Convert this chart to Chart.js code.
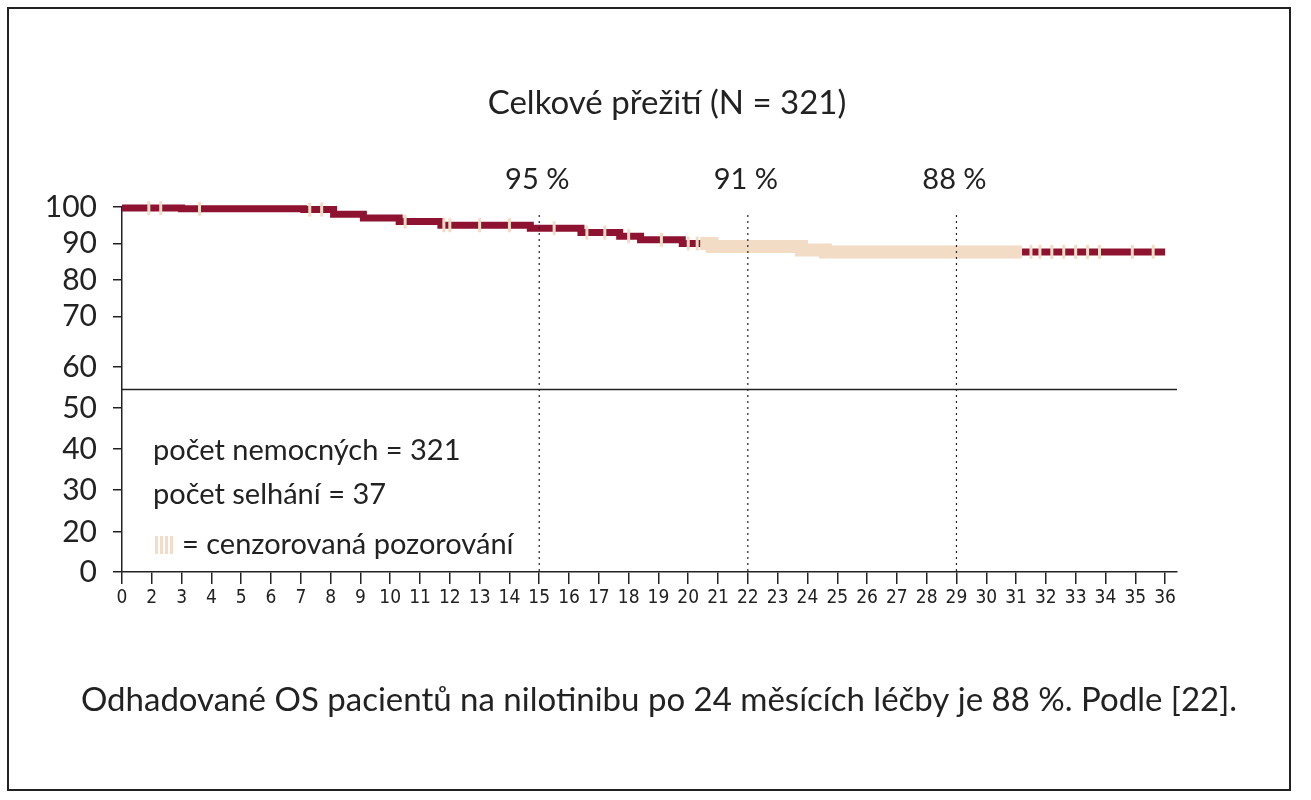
<!DOCTYPE html>
<html><head><meta charset="utf-8">
<script src="https://cdn.jsdelivr.net/npm/chart.js@4"></script>
<style>html,body{margin:0;padding:0;background:#fff}#w{width:1311px;height:800px;position:relative}</style>
</head><body><div id="w"><canvas id="c" width="1311" height="800"></canvas></div>
<script>
// x axis: evenly spaced tick positions, labelled with months (no "1")
const xTickLabels = ['0','2','3','4','5','6','7','8','9','10','11','12','13','14','15','16','17','18','19','20','21','22','23','24','25','26','27','28','29','30','31','32','33','34','35','36'];
// y axis: tick positions (axis units) and their printed labels (broken axis)
const yTickPos    = [0, 11, 22.5, 33.7, 44.9, 56.2, 70, 80, 90, 100];
const yTickLabels = ['0','20','30','40','50','60','70','80','90','100'];
// Kaplan-Meier step curve (x in tick-position units)
const kmTimes  = [0, 2.0, 6.1, 7.1, 8.1, 9.3, 10.7, 13.7, 15.4, 16.7, 17.4, 18.8, 19.8, 22.8, 23.6, 35.0];
const kmValues = [99.7, 99.5, 99.3, 98.0, 97.0, 96.0, 95.0, 94.2, 93.0, 92.0, 91.0, 90.0, 89.2, 88.2, 87.7, 87.7];
// censored observations (sparse marks)
const censorTimes = [0.9, 1.3, 2.6, 6.3, 6.7, 9.5, 10.8, 11.0, 12.0, 13.0, 14.5, 15.6, 16.2, 17.0, 18.1, 19.0, 19.3, 30.5, 30.8, 31.2, 31.6, 32.0, 32.4, 32.8, 33.9, 34.6];
// dense censoring band
const denseStart = 19.4, denseEnd = 30.2;
// marker lines
const markTimes  = [14, 21, 28];
const markLabels = ['95 %', '91 %', '88 %'];
const title = 'Celkové přežití (N = 321)';
const notes = ['počet nemocných = 321', 'počet selhání = 37', '= cenzorovaná pozorování'];
const caption = 'Odhadované OS pacientů na nilotinibu po 24 měsících léčby je 88 %. Podle [22].';

const RED = '#8e1330', BEIGE = '#f3dcc6';
function survAt(t){let v=kmValues[0];for(let i=0;i<kmTimes.length;i++){if(kmTimes[i]<=t)v=kmValues[i];}return v;}
const kmData = kmTimes.map((t,i)=>({x:t,y:kmValues[i]}));
const censData = censorTimes.map(t=>({x:t,y:survAt(t)}));
const denseData = [{x:denseStart,y:survAt(denseStart)}];
kmTimes.forEach(t=>{if(t>denseStart&&t<denseEnd)denseData.push({x:t,y:survAt(t)});});
denseData.push({x:denseEnd,y:survAt(denseEnd)});

const FONT = 'Lato, "Open Sans", sans-serif';
const deco = {
  id:'deco',
  beforeDraw(ch){const c=ch.ctx;c.save();c.strokeStyle='#222';c.lineWidth=2;c.strokeRect(8,8,1282,782);c.restore();},
  afterDraw(ch){
    const c=ch.ctx, xs=ch.scales.x, ys=ch.scales.y;
    c.save();
    c.fillStyle='#222';c.textAlign='center';c.textBaseline='middle';
    c.font='33px '+FONT;c.fillText(title,667,103);
    const yb=ys.getPixelForValue(50);
    c.strokeStyle='#222';c.lineWidth=1.5;c.beginPath();c.moveTo(xs.left,yb);c.lineTo(1177,yb);c.stroke();
    c.lineWidth=1.2;
    markTimes.forEach((t,i)=>{const px=xs.getPixelForValue(t);c.setLineDash([2,4]);c.beginPath();c.moveTo(px,215);c.lineTo(px,ys.bottom);c.stroke();
      c.setLineDash([]);c.font='29px '+FONT;c.fillText(markLabels[i],px-2,180);});
    c.setLineDash([]);
    c.textAlign='left';c.font='29px '+FONT;
    c.fillText(notes[0],153,451);c.fillText(notes[1],153,495);c.fillText(notes[2],182,545);
    c.fillStyle=BEIGE;for(let k=0;k<4;k++)c.fillRect(155+k*5,536,3,18);
    c.fillStyle='#222';c.textAlign='center';c.font='33px '+FONT;c.fillText(caption,659,700);
    c.restore();
  }
};

new Chart(document.getElementById('c'),{
  type:'scatter',
  data:{datasets:[
    {type:'line',data:kmData,stepped:'before',borderColor:RED,borderWidth:7,pointRadius:0,clip:false,order:3},
    {type:'line',data:denseData,stepped:'before',borderColor:BEIGE,borderWidth:13,pointRadius:0,clip:false,order:2},
    {data:censData,pointStyle:'line',rotation:90,radius:7,borderColor:BEIGE,borderWidth:3,backgroundColor:BEIGE,clip:false,order:1}
  ]},
  options:{
    responsive:false,animation:false,events:[],
    layout:{padding:{left:12,right:134,top:207,bottom:188}},
    plugins:{legend:{display:false},tooltip:{enabled:false}},
    scales:{
      x:{type:'linear',min:0,max:35.4,afterFit(s){s.height=40;},
        afterBuildTicks(s){s.ticks=xTickLabels.map((_,i)=>({value:i}));},
        grid:{drawOnChartArea:false,tickLength:12,color:'#222',lineWidth:1.5},
        border:{color:'#222',width:1.5},
        ticks:{autoSkip:false,maxRotation:0,color:'#222',font:{family:'"Liberation Sans Narrow", "DejaVu Sans Condensed", sans-serif',size:19},padding:3,callback:(v,i)=>xTickLabels[i]}},
      y:{type:'linear',min:0,max:100,afterFit(s){s.width=110;},
        afterBuildTicks(s){s.ticks=yTickPos.map(v=>({value:v}));},
        grid:{drawOnChartArea:false,tickLength:9,color:'#222',lineWidth:1.5},
        border:{color:'#222',width:1.5},
        ticks:{color:'#222',font:{family:FONT,size:30},padding:16,callback:(v,i)=>yTickLabels[i]}}
    }
  },
  plugins:[deco]
});
</script></body></html>
